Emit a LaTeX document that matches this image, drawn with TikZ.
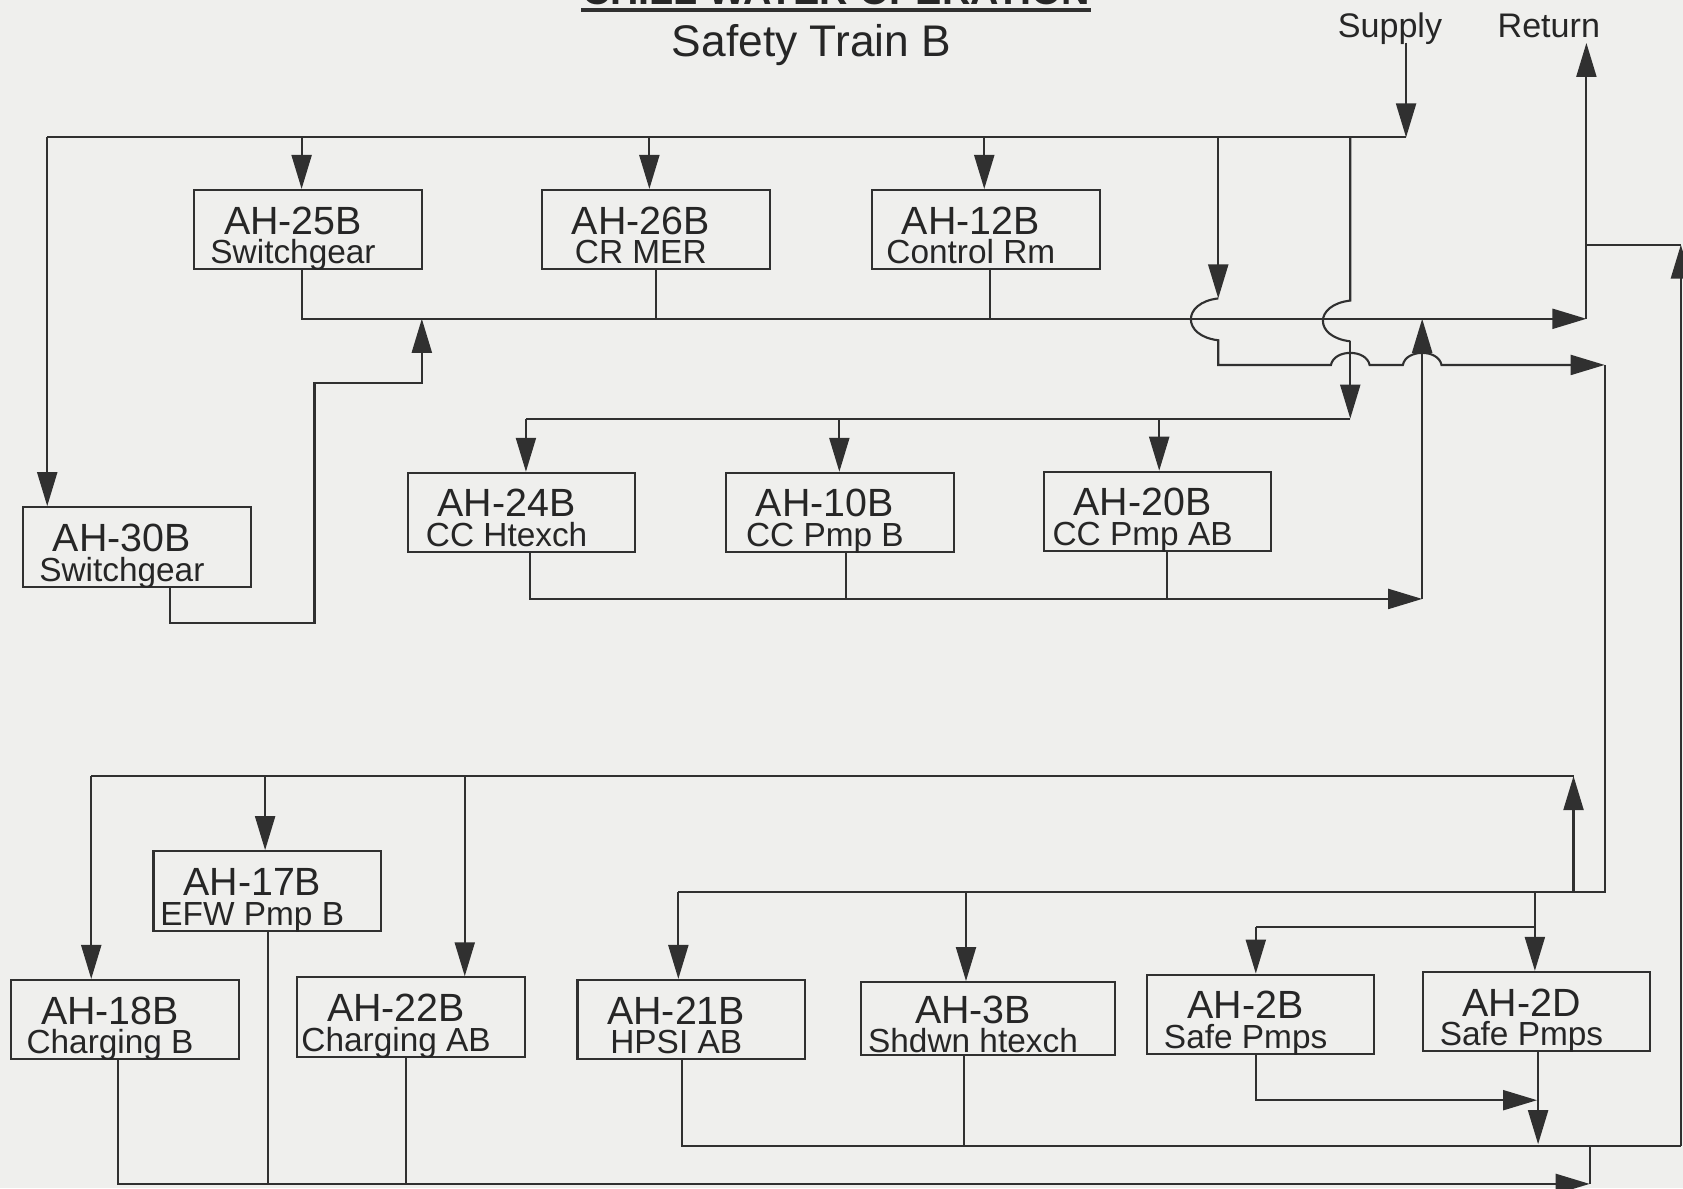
\documentclass[tikz,border=0pt]{standalone}
\usepackage{fontspec}
\setmainfont{Liberation Sans}
\usetikzlibrary{arrows.meta}
\definecolor{paper}{RGB}{239,239,237}
\definecolor{ink}{RGB}{48,48,48}
\newcommand{\tagf}{\fontsize{11.2}{8.5}\selectfont}
\newcommand{\subf}{\fontsize{9.5}{8.5}\selectfont}
\newcommand{\ah}[2]{\rule{0pt}{11pt}{\tagf #1}\kern3mm\\\smash{#2}\kern3mm}
\begin{document}
\begin{tikzpicture}[x=0.10733mm,y=-0.10733mm]
\tikzset{pipe/.style={draw=ink,line width=0.6pt},
  flow/.style={pipe,-{Triangle[length=3.4mm,width=2mm]}},
  unit/.style={draw=ink,line width=0.6pt,rectangle,inner sep=0pt,minimum width=22.75mm,minimum height=7.94mm,align=center,font=\subf,text=black!85}}
\fill[paper](0,0)rectangle(1568,1107);
\useasboundingbox(0,0)rectangle(1568,1107);
% headings
\path(779,4.5)node[anchor=base,inner sep=0pt,text=black!85,font=\fontsize{11.2}{13}\selectfont\bfseries](hdr){CHILL WATER OPERATION};
\draw[ink,line width=1.1pt]([yshift=-1.4pt]hdr.base west)--([yshift=-1.4pt]hdr.base east);
\path(756,53)node[anchor=base,inner sep=0pt,text=black!85,font=\fontsize{12.6}{15}\selectfont](title){Safety Train B};
\path(1295,35)node[anchor=base,inner sep=0pt,text=black!85,font=\fontsize{9.7}{12}\selectfont](supply){Supply}
  (1443,35)node[anchor=base,inner sep=0pt,text=black!85,font=\fontsize{9.7}{12}\selectfont](return){Return};
% air handlers
\path(287,214)node[unit](b25){\ah{AH-25B}{Switchgear}}
  (611,214)node[unit](b26){\ah{AH-26B}{CR MER}}
  (918.5,214)node[unit](b12){\ah{AH-12B}{Control Rm}};
\path(127.5,509.5)node[unit](b30){\ah{AH-30B}{Switchgear}};
\path(486,477.5)node[unit](b24){\ah{AH-24B}{CC Htexch}}
  (782.5,477.5)node[unit](b10){\ah{AH-10B}{CC Pmp B}}
  (1078.5,476.5)node[unit](b20){\ah{AH-20B}{CC Pmp AB}};
\path(249,830)node[unit](b17){\ah{AH-17B}{EFW Pmp B}};
\path(116.5,950)node[unit](b18){\ah{AH-18B}{Charging B}}
  (383,947.5)node[unit](b22){\ah{AH-22B}{Charging AB}}
  (644,950)node[unit](b21){\ah{AH-21B}{HPSI AB}}
  (920.5,949)node[unit,minimum width=25.44mm,minimum height=7.3mm](b3){\ah{AH-3B}{Shdwn htexch}}
  (1174.5,945)node[unit](b2B){\ah{AH-2B}{Safe Pmps}}
  (1431.5,942.5)node[unit](b2D){\ah{AH-2D}{Safe Pmps}};
% supply taps
\coordinate(sTop)at(1310,40);
\coordinate(sIn)at(1310,128);
\coordinate(sL)at(44,128);
\coordinate(t25)at(281,128);
\coordinate(t26)at(605,128);
\coordinate(t12)at(917,128);
\coordinate(tA)at(1135,128);
\coordinate(jA1)at(1135,278);
\coordinate(jA2)at(1135,317);
\coordinate(cA)at(1135,340);
\coordinate(sR)at(1495,340);
\coordinate(tB)at(1258,128);
\coordinate(jB1)at(1258,280);
\coordinate(jB2)at(1258,318);
\coordinate(cB)at(1258,390);
\coordinate(t24)at(490,390);
\coordinate(t10)at(782,390);
\coordinate(t20)at(1080,390);
\coordinate(lR)at(1495,831);
\coordinate(t21)at(632,831);
\coordinate(t3)at(900,831);
\coordinate(t2D)at(1430,831);
\coordinate(t2Bb)at(1430,864);
\coordinate(t2B)at(1170,864);
\coordinate(tUp)at(1466,831);
\coordinate(tUpTop)at(1466,723);
\coordinate(t18)at(85,723);
\coordinate(t17)at(247,723);
\coordinate(t22)at(433,723);
% return taps
\coordinate(r25)at(281,297);
\coordinate(r26)at(611,297);
\coordinate(r12)at(922,297);
\coordinate(rOut)at(1478,297);
\coordinate(rTop)at(1478,40);
\coordinate(rSide)at(1478,228);
\coordinate(eTop)at(1566,228);
\coordinate(eBot)at(1566,1068);
\coordinate(r30a)at(158,580);
\coordinate(r30b)at(293,580);
\coordinate(r30c)at(293,357);
\coordinate(r30d)at(393,357);
\coordinate(r30e)at(393,297);
\coordinate(o24)at(494,558);
\coordinate(o10)at(788,558);
\coordinate(o20)at(1087,558);
\coordinate(oCC)at(1325,558);
\coordinate(oCCtop)at(1325,297);
\coordinate(o21)at(635,1068);
\coordinate(o3)at(898,1068);
\coordinate(o2D)at(1433,1066);
\coordinate(o2B)at(1170,1025);
\coordinate(o2Be)at(1432,1025);
\coordinate(o18)at(110,1103);
\coordinate(o17)at(250,1103);
\coordinate(o22)at(378,1103);
\coordinate(oB)at(1481,1103);
\coordinate(oBup)at(1481,1068);
% supply side
\draw[flow](sTop)--(sIn);
\draw[pipe](sIn)--(sL);
\draw[flow](sL)--(sL|-b30.north);
\foreach \tp/\bx in {t25/b25,t26/b26,t12/b12,t24/b24,t10/b10,t20/b20,t21/b21,t3/b3,t2D/b2D,t2B/b2B,t18/b18,t17/b17,t22/b22}
  \draw[flow](\tp)--(\tp|-\bx.north);
\draw[flow](tA)--(jA1);
\draw[flow](jA1)..controls(1101,282)and(1101,313)..(jA2)--(cA)--(1240,340)
  ..controls(1243,325)and(1273,325)..(1276,340)--(1307,340)
  ..controls(1310,325)and(1340,325)..(1343,340)--(sR);
\draw[pipe](tB)--(jB1)..controls(1224,284)and(1224,314)..(jB2);
\draw[flow](jB2)--(cB);
\draw[pipe](cB)--(t24);
\draw[pipe](sR)--(lR)--(t21);
\draw[pipe](t2Bb)--(t2B);
\draw[flow](tUp)--(tUpTop);
\draw[pipe](tUpTop)--(t18);
% return side
\draw[flow](r25|-b25.south)--(r25)--(rOut);
\foreach \tp/\bx in {r26/b26,r12/b12,o10/b10,o20/b20,o3/b3,o17/b17,o22/b22}
  \draw[pipe](\tp|-\bx.south)--(\tp);
\draw[flow](rOut)--(rTop);
\draw[flow](r30a|-b30.south)--(r30a)--(r30b)--(r30c)--(r30d)--(r30e);
\draw[flow](o24|-b24.south)--(o24)--(oCC);
\draw[flow](oCC)--(oCCtop);
\draw[pipe](o21|-b21.south)--(o21)--(eBot);
\draw[flow](o2D|-b2D.south)--(o2D);
\draw[flow](o2B|-b2B.south)--(o2B)--(o2Be);
\draw[flow](o18|-b18.south)--(o18)--(oB);
\draw[pipe](oB)--(oBup);
\draw[flow](eBot)--(eTop);
\draw[pipe](eTop)--(rSide);
\end{tikzpicture}
\end{document}
